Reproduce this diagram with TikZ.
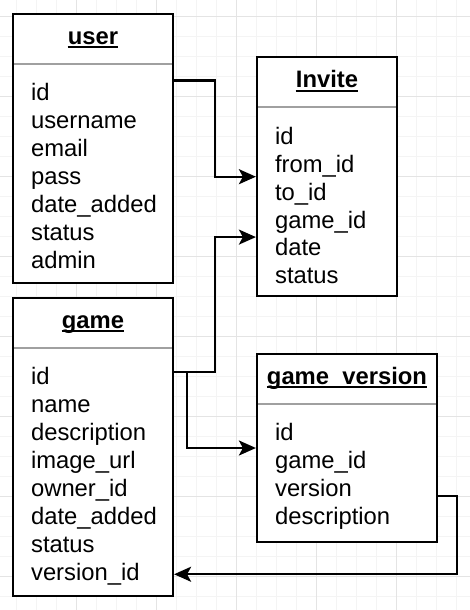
\documentclass[tikz,border=0pt]{standalone}
\usepackage{fontspec}
\setmainfont{Liberation Sans}
\usetikzlibrary{calc,arrows.meta,positioning}
\definecolor{gridmajor}{HTML}{E4E4E4}
\definecolor{gridminor}{HTML}{F4F4F4}
\definecolor{sepgray}{HTML}{A0A0A0}

\begin{document}
\begin{tikzpicture}[x=1pt,y=-1pt,>={Stealth[length=17pt,width=15pt,inset=4pt]},
    table/.style={rectangle,draw,line width=2.2pt,fill=white,inner sep=0pt},
    title/.style={anchor=base,inner sep=0pt,font=\fontsize{23.8pt}{28pt}\selectfont\bfseries},
    field/.style={anchor=base west,inner sep=0pt,text height=17pt,text depth=5pt,font=\fontsize{23.8pt}{28pt}\selectfont},
    sep/.style={draw=sepgray,line width=2pt},
    uline/.style={line width=2pt},
    link/.style={->,line width=2.2pt}]

    \useasboundingbox (0,0) rectangle (470,610);

    % background grid
    \foreach \k in {0,...,22}
        \draw[gridminor,line width=1pt] (16.7+20*\k,0) -- (16.7+20*\k,610);
    \foreach \k in {0,...,29}
        \draw[gridminor,line width=1pt] (0,16.7+20*\k) -- (470,16.7+20*\k);
    \foreach \k in {0,...,4}
        \draw[gridmajor,line width=1pt] (76.7+80*\k,0) -- (76.7+80*\k,610);
    \foreach \k in {0,...,7}
        \draw[gridmajor,line width=1pt] (0,16.7+80*\k) -- (470,16.7+80*\k);

    % tables
    \node[table, minimum width=160, minimum height=269.3] (user) at (93,148.3) {};
    \node[table, minimum width=160, minimum height=298] (game) [below=12.5pt of user] {};
    \node[table, minimum width=140, minimum height=239.3] (invite) at (327,176.7) {};
    \node[table, minimum width=180, minimum height=188.7] (version) at (347,448) {};

    \node[title] (user-t) at ($(user.north)+(0,32)$) {user};
    \node[title] (game-t) at ($(game.north)+(0,32)$) {game};
    \node[title] (invite-t) at ($(invite.north)+(0,32)$) {Invite};
    \node[title] (version-t) at ($(version.north)+(0,32)$) {game\_version};

    \foreach \t in {user,game,invite,version} {
        \draw[uline] ([yshift=-2.7pt]\t-t.base west) -- ([yshift=-2.7pt]\t-t.base east);
        \draw[sep] ($(\t.north west)+(2.5,51)$) -- ($(\t.north east)+(-2.5,51)$);
    }

    % fields
    \foreach \f [count=\i] in {id,username,email,pass,date\_added,status,admin}
        \node[field] (user-\i) at ($(user.north west)+(19,60.5+27.9*\i)$) {\f};
    \foreach \f [count=\i] in {id,name,description,image\_url,owner\_id,date\_added,status,version\_id}
        \node[field] (game-\i) at ($(game.north west)+(19,60.5+27.9*\i)$) {\f};
    \foreach \f [count=\i] in {id,from\_id,to\_id,game\_id,date,status}
        \node[field] (invite-\i) at ($(invite.north west)+(19,60.5+27.9*\i)$) {\f};
    \foreach \f [count=\i] in {id,game\_id,version,description}
        \node[field] (version-\i) at ($(version.north west)+(19,60.5+27.9*\i)$) {\f};

    % connectors
    \coordinate (u1) at ($(user.north east)!0.25!(user.south east)$);
    \coordinate (g1) at ($(game.north east)!0.25!(game.south east)$);
    \coordinate (i2) at ($(invite.north west)!0.75!(invite.south west)$);
    \coordinate (v1) at ($(version.north east)!0.75!(version.south east)$);

    \draw[link] (u1) -| ($(u1)!0.5!(invite.west)$) |- (invite.west);
    \draw[link] (g1) -| ($(g1)!0.5!(i2)$) |- (i2);
    \draw[link] (g1) -- ([xshift=13pt]g1) |- (version.west);
    \draw[link] (v1) -- ++(19,0) |- (game.east |- game-8);
\end{tikzpicture}
\end{document}
